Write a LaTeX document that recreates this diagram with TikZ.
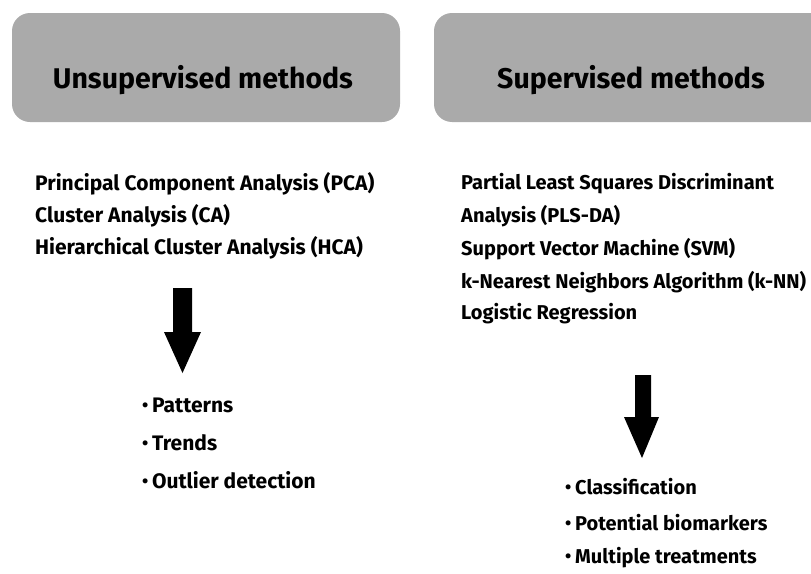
\documentclass[tikz,border=0pt]{standalone}
\usepackage{fontspec}
\setmainfont{Fira Sans}
\newcommand{\blt}{\makebox[10pt][l]{\raisebox{0.05em}{\fontsize{18}{18}\selectfont•}}}
\begin{document}
\begin{tikzpicture}[x=1pt,y=-1pt,
  header/.style={fill=boxgray, rounded corners=18pt},
  title/.style={font=\bfseries\fontsize{28.5}{32}\selectfont, text=black},
  item/.style={anchor=west, font=\bfseries\fontsize{21}{24}\selectfont, inner sep=0pt},
  ritem/.style={item, font=\bfseries\fontsize{20}{24}\selectfont},
  bigarrow/.style={fill=black}]
\definecolor{boxgray}{RGB}{170,170,170}
\useasboundingbox (0,0) rectangle (811,573);
\clip (0,0) rectangle (811,573);
% header panels
\fill[header] (12,13) rectangle (400,122);
\fill[header] (434,13) rectangle (850,122);
\node[title] (unsup) at (203,80) {Unsupervised methods};
\node[title] (sup) at (631,80) {Supervised methods};
% unsupervised methods
\node[item] (pca) at (35,184) {Principal Component Analysis (PCA)};
\node[item] (ca) at (35,216) {Cluster Analysis (CA)};
\node[item] (hca) at (35,248) {Hierarchical Cluster Analysis (HCA)};
% supervised methods
\node[ritem] (pls1) at (461,184) {Partial Least Squares Discriminant};
\node[ritem] (pls2) at (461,216) {Analysis (PLS-DA)};
\node[ritem] (svm) at (461,249) {Support Vector Machine (SVM)};
\node[ritem] (knn) at (461,282) {k-Nearest Neighbors Algorithm (k-NN)};
\node[ritem] (lr) at (461,314) {Logistic Regression};
% block arrows
\fill[bigarrow] (173,288) -- (192,288) -- (192,332) -- (201,332) -- (182.5,373) -- (164,332) -- (173,332) -- cycle;
\fill[bigarrow] (635,375) -- (651,375) -- (651,417) -- (659,417) -- (642,458) -- (624,417) -- (635,417) -- cycle;
% outcomes
\node[item] (pat) at (142,405) {\blt Patterns};
\node[item] (tre) at (142,443) {\blt Trends};
\node[item] (out) at (142,480) {\blt Outlier detection};
\node[ritem] (cls) at (565,487) {\blt Classification};
\node[ritem] (bio) at (565,523) {\blt Potential biomarkers};
\node[ritem] (mul) at (565,558) {\blt Multiple treatments};
\end{tikzpicture}
\end{document}
